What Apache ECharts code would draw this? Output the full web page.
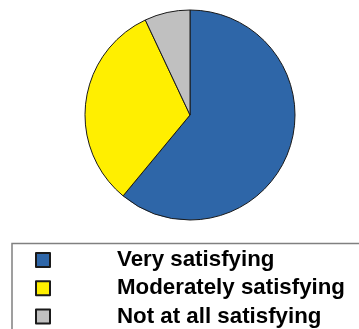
<!DOCTYPE html>
<html>
<head>
<meta charset="utf-8">
<style>
html,body{margin:0;padding:0;background:#fff;}
#chart{width:359px;height:329px;}
</style>
<script src="https://cdn.jsdelivr.net/npm/echarts@6/dist/echarts.min.js"></script>
</head>
<body>
<div id="chart"></div>
<script>
var categories = ["Very satisfying", "Moderately satisfying", "Not at all satisfying"];
var values = [61, 32, 7];
var colors = ["#2E66A8", "#FFEF00", "#C0C0C0"];

var chart = echarts.init(document.getElementById('chart'), null, {renderer: 'canvas'});
chart.setOption({
  animation: false,
  backgroundColor: '#ffffff',
  legend: {
    orient: 'vertical',
    left: 12,
    top: 243.5,
    height: 200,
    data: categories,
    icon: 'rect',
    itemWidth: 14,
    itemHeight: 14,
    itemGap: 6.2,
    padding: [5.5, 30, 30, 23],
    borderColor: '#808080',
    borderWidth: 1.5,
    selectedMode: false,
    textStyle: {
      fontFamily: 'Liberation Sans, Arial, sans-serif',
      fontWeight: 'bold',
      fontSize: 22.3,
      color: '#000',
      padding: [0, 0, 0, 62]
    }
  },
  series: [{
    type: 'pie',
    center: [190, 115],
    radius: 105,
    startAngle: 90,
    clockwise: true,
    label: {show: false},
    labelLine: {show: false},
    emphasis: {disabled: true},
    itemStyle: {borderColor: '#1a1a1a', borderWidth: 1},
    data: categories.map(function (c, i) {
      return {name: c, value: values[i], itemStyle: {color: colors[i]}};
    })
  }]
});
</script>
</body>
</html>
